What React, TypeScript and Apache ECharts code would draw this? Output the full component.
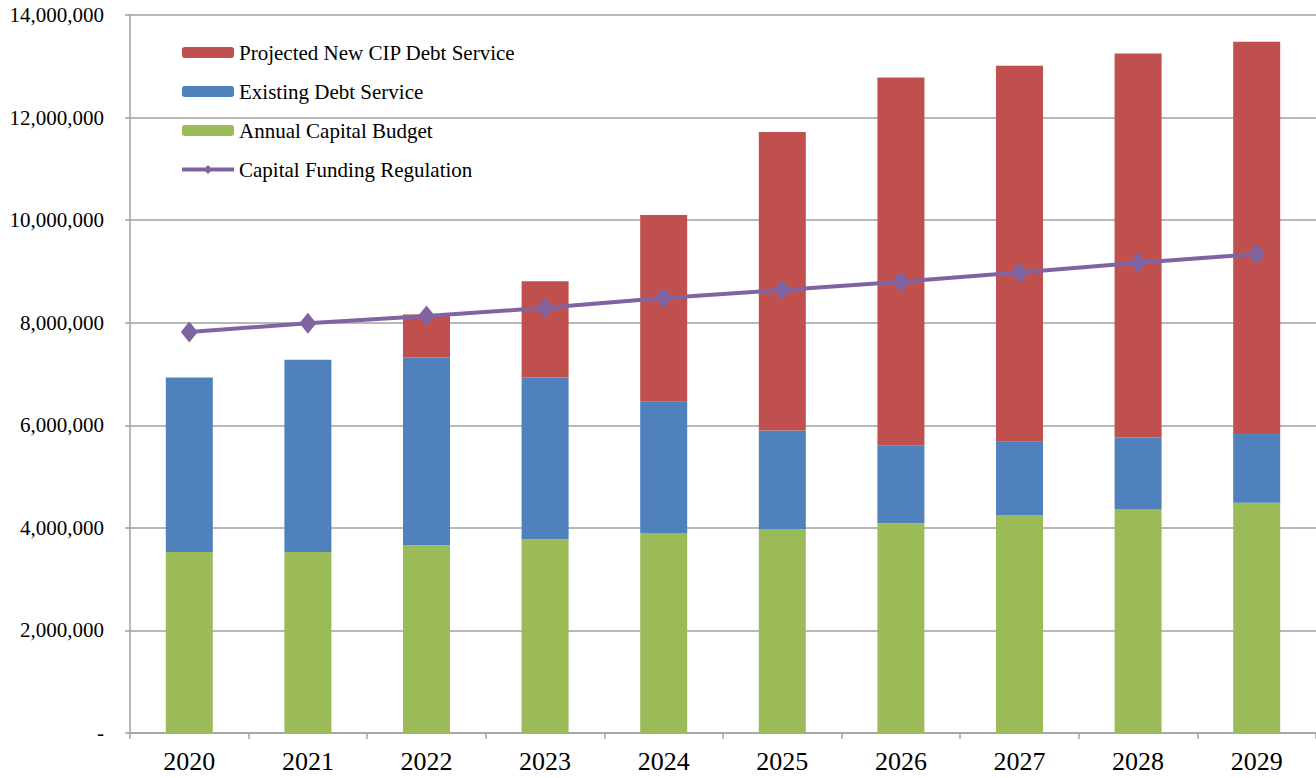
import React, { useEffect, useRef } from "react";
import * as echarts from "echarts";

const years = ["2020", "2021", "2022", "2023", "2024", "2025", "2026", "2027", "2028", "2029"];
const annualCapitalBudget = [3530000, 3530000, 3660000, 3780000, 3900000, 3980000, 4090000, 4250000, 4370000, 4490000];
const existingDebtService = [3400000, 3750000, 3660000, 3150000, 2560000, 1920000, 1510000, 1430000, 1390000, 1360000];
const projectedNewCIP = [0, 0, 840000, 1880000, 3640000, 5820000, 7180000, 7330000, 7490000, 7630000];
const capitalFundingRegulation = [7820000, 7990000, 8130000, 8290000, 8480000, 8640000, 8800000, 8980000, 9170000, 9340000];

const FONT = "'Liberation Serif', 'Times New Roman', serif";

export default function App() {
  const ref = useRef<HTMLDivElement>(null);
  useEffect(() => {
    if (!ref.current) return;
    const chart = echarts.init(ref.current, null, { renderer: "svg" });
    chart.setOption({
      animation: false,
      backgroundColor: "#ffffff",
      grid: { left: 130, right: -3, top: 15, bottom: 45, containLabel: false },
      legend: {
        orient: "vertical",
        left: 180,
        top: 42,
        padding: 0,
        itemWidth: 52,
        itemHeight: 11,
        itemGap: 18,
        lineStyle: { width: 4 },
        data: [
          "Projected New CIP Debt Service",
          "Existing Debt Service",
          "Annual Capital Budget",
          "Capital Funding Regulation",
        ],
        textStyle: { fontFamily: FONT, fontSize: 21, color: "#000", lineHeight: 21 },
      },
      xAxis: {
        type: "category",
        data: years,
        axisLine: { lineStyle: { color: "#a0a0a0", width: 1.5 } },
        axisTick: { show: true, length: 6, lineStyle: { color: "#a0a0a0", width: 1.5 } },
        axisLabel: { fontFamily: FONT, fontSize: 26, color: "#000", margin: 15 },
      },
      yAxis: {
        type: "value",
        min: 0,
        max: 14000000,
        interval: 2000000,
        axisLine: { show: true, lineStyle: { color: "#a0a0a0", width: 1.5 } },
        axisTick: { show: true, length: 5, lineStyle: { color: "#a0a0a0", width: 1.5 } },
        splitLine: { show: true, lineStyle: { color: "#a0a0a0", width: 1.5 } },
        axisLabel: {
          fontFamily: FONT,
          fontSize: 21,
          color: "#000",
          margin: 26,
          formatter: (v: number) => (v === 0 ? "-" : v.toLocaleString("en-US")),
        },
      },
      series: [
        {
          name: "Annual Capital Budget",
          type: "bar",
          stack: "total",
          barWidth: 47,
          data: annualCapitalBudget,
          itemStyle: { color: "#9BBB59" },
        },
        {
          name: "Existing Debt Service",
          type: "bar",
          stack: "total",
          barWidth: 47,
          data: existingDebtService,
          itemStyle: { color: "#4F81BD" },
        },
        {
          name: "Projected New CIP Debt Service",
          type: "bar",
          stack: "total",
          barWidth: 47,
          data: projectedNewCIP,
          itemStyle: { color: "#C0504D" },
        },
        {
          name: "Capital Funding Regulation",
          type: "line",
          data: capitalFundingRegulation,
          symbol: "diamond",
          symbolSize: [17, 21],
          z: 10,
          lineStyle: { color: "#8064A2", width: 4 },
          itemStyle: { color: "#8064A2" },
        },
      ],
    });
    return () => chart.dispose();
  }, []);
  return (
    <div
      ref={ref}
      style={{ position: "fixed", left: 0, top: 0, width: 1316, height: 778, background: "#fff" }}
    />
  );
}
